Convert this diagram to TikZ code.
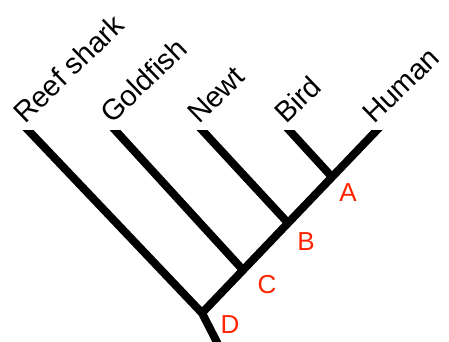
\documentclass[tikz,border=0pt]{standalone}
\usepackage{fontspec}
\setmainfont{Liberation Sans}
\definecolor{cladered}{RGB}{255,36,0}
\tikzset{
  branch/.style={line width=8pt, black},
  taxon/.style={rotate=44, anchor=base west, inner sep=0pt,
    font=\fontsize{29}{29}\selectfont},
  cladelabel/.style={text=cladered, inner sep=0pt,
    font=\fontsize{26}{26}\selectfont}
}
\begin{document}
\begin{tikzpicture}[x=1pt, y=-1pt]
    \useasboundingbox (0, 0) rectangle (449, 341);
    % tips of the five branches
    \coordinate (shark) at (28, 130);
    \coordinate (goldfish) at (115, 130);
    \coordinate (newt) at (202, 130);
    \coordinate (bird) at (289, 130);
    \coordinate (human) at (377, 130);
    % common ancestors along the spine
    \coordinate (A) at (332, 177);
    \coordinate (B) at (288, 223);
    \coordinate (C) at (243, 270);
    \coordinate (D) at (202, 313);
    \coordinate (root) at (222, 352);
    % branches, tops cut flat
    \begin{scope}
        \clip (0, 130) rectangle (449, 341);
        \draw [branch, shorten <=-10pt] (shark) -- (D) -- (root);
        \draw [branch, shorten >=-10pt] (D) -- (human);
        \draw [branch, shorten <=-10pt] (goldfish) -- (C);
        \draw [branch, shorten <=-10pt] (newt) -- (B);
        \draw [branch, shorten <=-10pt] (bird) -- (A);
    \end{scope}
    % species names
    \node [taxon] (sharkname) at (25, 125) {Reef shark};
    \node [taxon] (goldfishname) at (112, 125) {Goldfish};
    \node [taxon] (newtname) at (199, 125) {Newt};
    \node [taxon] (birdname) at (286, 125) {Bird};
    \node [taxon] (humanname) at (374, 125) {Human};
    % node letters
    \node [cladelabel] (labA) at (348, 193) {A};
    \node [cladelabel] (labB) at (306, 242) {B};
    \node [cladelabel] (labC) at (267, 285) {C};
    \node [cladelabel] (labD) at (230, 325) {D};
\end{tikzpicture}
\end{document}
